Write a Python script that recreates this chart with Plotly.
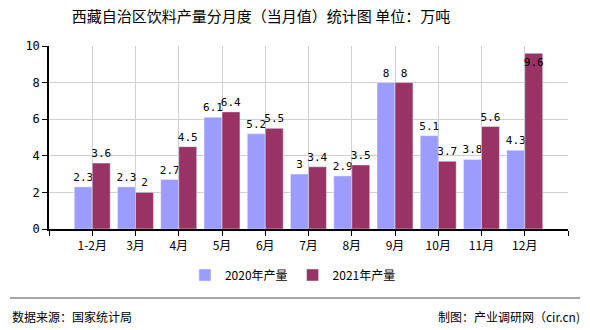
import plotly.graph_objects as go

categories = ["1-2月", "3月", "4月", "5月", "6月", "7月", "8月", "9月", "10月", "11月", "12月"]
values_2020 = [2.3, 2.3, 2.7, 6.1, 5.2, 3, 2.9, 8, 5.1, 3.8, 4.3]
values_2021 = [3.6, 2, 4.5, 6.4, 5.5, 3.4, 3.5, 8, 3.7, 5.6, 9.6]
series_names = ["2020年产量", "2021年产量"]
y_ticks = [0, 2, 4, 6, 8, 10]

x_pos = list(range(1, len(categories) + 1))
FONT = "Noto Sans CJK SC"
LBL = dict(family="DejaVu Sans Mono", size=11, color="#000")

pos21 = ["inside" if v > 9.3 else "outside" for v in values_2021]

fig = go.Figure()
fig.add_bar(x=x_pos, y=values_2020, name=series_names[0], marker_color="#9c9cff",
            text=[str(v) for v in values_2020], textposition="outside", cliponaxis=False,
            textfont=LBL)
fig.add_bar(x=x_pos, y=values_2021, name=series_names[1], marker_color="#993366",
            text=[str(v) for v in values_2021], textposition=pos21, cliponaxis=False,
            insidetextanchor="end", textangle=0,
            insidetextfont=LBL, outsidetextfont=LBL)

fig.update_layout(
    width=590, height=330,
    margin=dict(l=49, r=22, t=46, b=101),
    paper_bgcolor="white", plot_bgcolor="white",
    barmode="group", bargap=0.17, bargroupgap=0,
    uniformtext=dict(minsize=11, mode="show"),
    font=dict(family=FONT, size=12, color="#000"),
    title=dict(text="西藏自治区饮料产量分月度（当月值）统计图 单位：万吨", x=261/590, xanchor="center",
               y=1 - 17/330, yanchor="middle", font=dict(family=FONT, size=15, color="#000")),
    legend=dict(orientation="h", x=0.47, xanchor="center", y=-(275-229)/183, yanchor="middle",
                font=dict(family=FONT, size=12), itemwidth=30),
    showlegend=True,
)
fig.update_xaxes(range=[0, len(categories) + 1], tickvals=[0] + x_pos + [len(categories) + 1],
                 ticktext=[""] + categories + [""], showgrid=True, gridcolor="#d0d0d0",
                 showline=True, linecolor="#000", linewidth=1.5, ticks="outside", ticklen=5,
                 tickcolor="#000", tickfont=dict(family=FONT, size=12), zeroline=False)
fig.update_yaxes(range=[0, 10], tickvals=y_ticks, showgrid=True, gridcolor="#d0d0d0",
                 showline=True, linecolor="#000", linewidth=1.5, ticks="outside", ticklen=5,
                 tickcolor="#000", tickfont=dict(family="DejaVu Sans Mono", size=12), zeroline=False)

fig.add_shape(type="line", xref="paper", yref="paper", x0=-39/519, x1=(580-49)/519,
              y0=-(298-229)/183, y1=-(298-229)/183, line=dict(color="#888", width=1.5))
fig.add_annotation(text="数据来源：国家统计局", xref="paper", yref="paper", x=-39/519, xanchor="left",
                   y=-(316-229)/183, yanchor="middle", showarrow=False, font=dict(family=FONT, size=12))
fig.add_annotation(text="制图：产业调研网（cir.cn)", xref="paper", yref="paper", x=(582-49)/519, xanchor="right",
                   y=-(316-229)/183, yanchor="middle", showarrow=False, font=dict(family=FONT, size=12))

fig.write_html("out.html")
